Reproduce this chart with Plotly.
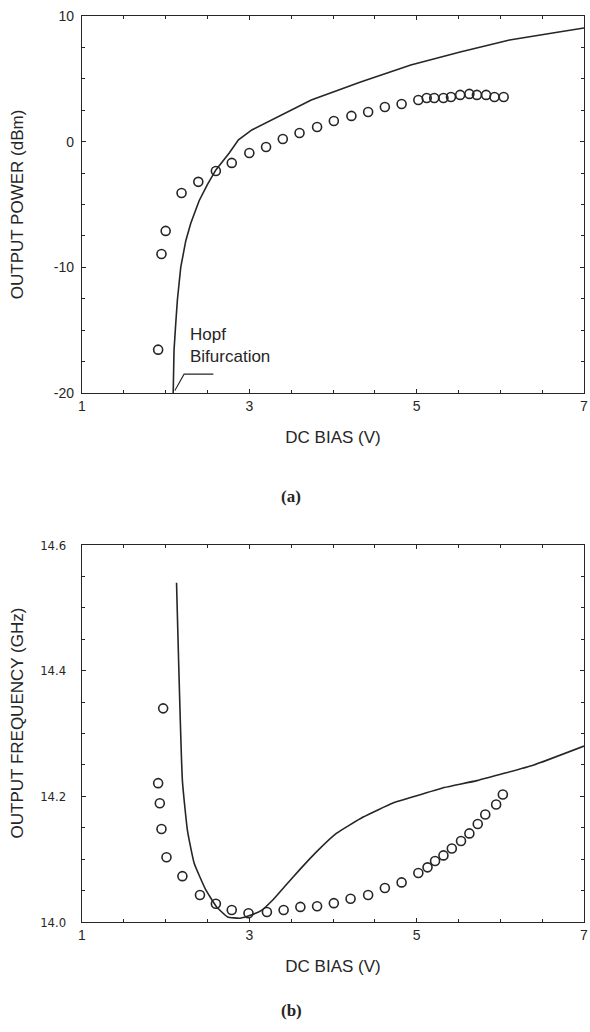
import plotly.graph_objects as go

# ---- data ----
power_bias = [1.91, 1.95, 2.00, 2.19, 2.39, 2.60, 2.79, 3.00, 3.20, 3.40, 3.60, 3.81, 4.01, 4.22,
              4.42, 4.62, 4.82, 5.02, 5.12, 5.21, 5.32, 5.41, 5.52, 5.63, 5.72, 5.83, 5.93, 6.04]
power_meas = [-16.55, -8.94, -7.1, -4.08, -3.2, -2.33, -1.69, -0.9, -0.42, 0.21, 0.69, 1.17, 1.65, 2.05,
              2.36, 2.76, 3.0, 3.32, 3.48, 3.48, 3.48, 3.56, 3.72, 3.8, 3.72, 3.72, 3.56, 3.56]

power_sim_bias = [2.09, 2.095, 2.10, 2.12, 2.14, 2.18, 2.24, 2.30, 2.40, 2.50, 2.60, 2.76, 2.87,
                  3.03, 3.20, 3.38, 3.74, 4.33, 4.93, 5.52, 6.11, 6.70, 7.00]
power_sim = [-20.0, -18.0, -16.6, -14.5, -12.6, -10.0, -7.9, -6.5, -4.7, -3.4, -2.25, -0.9, 0.14,
             0.93, 1.5, 2.05, 3.32, 4.75, 6.1, 7.14, 8.09, 8.73, 9.05]

freq_bias = [1.97, 1.91, 1.93, 1.95, 2.01, 2.20, 2.41, 2.60, 2.79, 2.99, 3.21, 3.41, 3.61, 3.81,
             4.01, 4.21, 4.42, 4.62, 4.82, 5.02, 5.13, 5.22, 5.32, 5.42, 5.53, 5.63, 5.73, 5.82,
             5.95, 6.03]
freq_meas = [14.340, 14.221, 14.189, 14.148, 14.103, 14.073, 14.043, 14.029, 14.019, 14.014,
             14.016, 14.019, 14.024, 14.025, 14.030, 14.037, 14.043, 14.054, 14.063, 14.078,
             14.087, 14.097, 14.106, 14.117, 14.129, 14.141, 14.156, 14.171, 14.187, 14.203]

freq_sim_bias = [2.13, 2.20, 2.26, 2.34, 2.48, 2.61, 2.74, 2.89, 3.02, 3.15, 3.28, 3.42, 3.60,
                 3.82, 4.04, 4.36, 4.71, 4.93, 5.33, 5.72, 6.40, 7.00]
freq_sim = [14.54, 14.225, 14.146, 14.094, 14.051, 14.024, 14.008, 14.006, 14.011, 14.019,
            14.035, 14.056, 14.083, 14.114, 14.141, 14.167, 14.189, 14.198, 14.214, 14.225,
            14.25, 14.28]

hopf_leader_v = [2.11, 2.22, 2.57]
hopf_leader_p = [-19.8, -18.5, -18.5]

x_ticks = [1, 3, 5, 7]
power_ticks = [-20, -10, 0, 10]
power_ticktext = ["-20", "-10", "0", "10"]
freq_ticks = [14.0, 14.2, 14.4, 14.6]
freq_ticktext = ["14.0", "14.2", "14.4", "14.6"]

INK = "#262626"
FONT = "Liberation Sans, Arial, sans-serif"
NARROW = "Liberation Sans Narrow, DejaVu Sans Condensed, Arial Narrow, Liberation Sans, sans-serif"
SERIF = "Liberation Serif, Times New Roman, serif"

fig = go.Figure()

marker = dict(symbol="circle-open", size=9, color=INK, line=dict(width=1.6, color=INK))

fig.add_trace(go.Scatter(x=power_sim_bias, y=power_sim, mode="lines", line=dict(color=INK, width=1.6),
                         xaxis="x", yaxis="y", showlegend=False))
fig.add_trace(go.Scatter(x=power_bias, y=power_meas, mode="markers", marker=marker,
                         xaxis="x", yaxis="y", showlegend=False))
fig.add_trace(go.Scatter(x=hopf_leader_v, y=hopf_leader_p, mode="lines", line=dict(color=INK, width=1.1),
                         xaxis="x", yaxis="y", showlegend=False))

fig.add_trace(go.Scatter(x=freq_sim_bias, y=freq_sim, mode="lines", line=dict(color=INK, width=1.6,
                         shape="spline", smoothing=0.4), xaxis="x2", yaxis="y2", showlegend=False))
fig.add_trace(go.Scatter(x=freq_bias, y=freq_meas, mode="markers", marker=marker,
                         xaxis="x2", yaxis="y2", showlegend=False))

axis_common = dict(showline=True, linecolor=INK, linewidth=1.4, mirror="allticks", ticks="inside",
                   ticklen=4, tickcolor=INK, showgrid=False, zeroline=False, ticklabeloverflow="allow")
tick_font = dict(family=FONT, size=14, color=INK)
title_font = dict(family=FONT, size=17, color=INK)

fig.update_layout(
    width=590, height=1032,
    margin=dict(l=82, r=2, t=16, b=110),
    paper_bgcolor="white", plot_bgcolor="white",
    font=dict(family=FONT, color=INK),
    xaxis=dict(domain=[0, 1], range=[1, 7], tickvals=x_ticks, anchor="y", tickfont=tick_font,
               minor=dict(dtick=0.5, ticks="inside", ticklen=3, tickcolor=INK),
               title=dict(text="DC BIAS (V)", font=title_font, standoff=18), **axis_common),
    yaxis=dict(domain=[0.5839, 1.0], range=[-20, 10], tickvals=power_ticks, ticktext=power_ticktext,
               anchor="x", tickfont=tick_font, ticklabelstandoff=4,
               minor=dict(dtick=2.5, ticks="inside", ticklen=3, tickcolor=INK), **axis_common),
    xaxis2=dict(domain=[0, 1], range=[1, 7], tickvals=x_ticks, anchor="y2", tickfont=tick_font,
                minor=dict(dtick=0.5, ticks="inside", ticklen=3, tickcolor=INK),
                title=dict(text="DC BIAS (V)", font=title_font, standoff=18), **axis_common),
    yaxis2=dict(domain=[0, 0.4161], range=[14.0, 14.6], tickvals=freq_ticks, ticktext=freq_ticktext,
                anchor="x2", tickfont=dict(family=NARROW, size=13, color=INK), ticklabelstandoff=12,
                minor=dict(dtick=0.05, ticks="inside", ticklen=3, tickcolor=INK),
                **axis_common),
)

fig.add_annotation(text="OUTPUT POWER (dBm)", textangle=-90, xref="paper", yref="paper",
                   x=-0.128, y=0.792, xanchor="center", yanchor="middle", showarrow=False,
                   font=title_font)
fig.add_annotation(text="OUTPUT FREQUENCY (GHz)", textangle=-90, xref="paper", yref="paper",
                   x=-0.128, y=0.22, xanchor="center", yanchor="middle", showarrow=False,
                   font=title_font)
fig.add_annotation(text="Hopf<br>Bifurcation", xref="x", yref="y", x=2.27, y=-16.2, xanchor="left",
                   align="left", showarrow=False, font=title_font)
fig.add_annotation(text="<b>(a)</b>", xref="paper", yref="paper", x=0.417, y=(922 - 497) / 906,
                   showarrow=False, font=dict(size=17, family=SERIF, color=INK))
fig.add_annotation(text="<b>(b)</b>", xref="paper", yref="paper", x=0.417, y=(922 - 1022) / 906,
                   showarrow=False, font=dict(size=17, family=SERIF, color=INK))

fig.write_html("out.html", config={"displayModeBar": False},
               post_script="document.body.style.margin='0';document.body.style.overflow='hidden';")
